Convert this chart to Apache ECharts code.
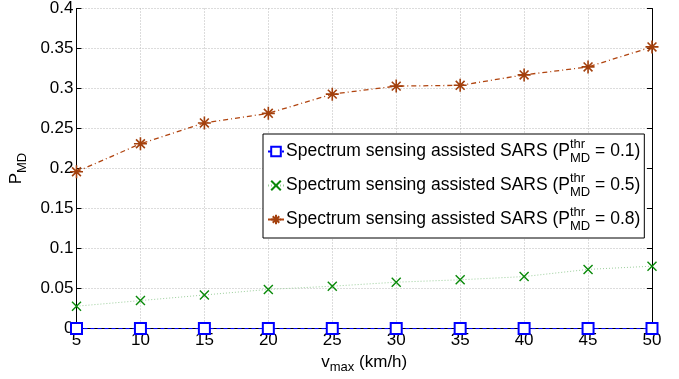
<!DOCTYPE html>
<html>
<head>
<meta charset="utf-8">
<script src="https://cdn.jsdelivr.net/npm/echarts@6/dist/echarts.min.js"></script>
<style>
  html, body { margin: 0; padding: 0; background: #fff; }
  #main { width: 679px; height: 379px; }
</style>
</head>
<body>
<div id="main"></div>
<script>
// data
const vmax = [5, 10, 15, 20, 25, 30, 35, 40, 45, 50]
const thr = ['0.1', '0.5', '0.8']
const pmd01 = [0, 0, 0, 0, 0, 0, 0, 0, 0, 0]
const pmd05 = [0.028, 0.035, 0.042, 0.049, 0.053, 0.058, 0.061, 0.065, 0.074, 0.078]
const pmd08 = [0.196, 0.231, 0.257, 0.269, 0.293, 0.303, 0.304, 0.317, 0.327, 0.352]

const font = 'Liberation Sans'
const names = thr.map(t => 'Spectrum sensing assisted SARS (thr ' + t + ')')

function pts(ys) {
    return vmax.map((x, i) => [x, ys[i]])
}

const xMark = 'path://M0,0L10,10M10,0L0,10'
const starMark = 'path://M5,0L5,10M0,5L10,5M1.6,1.6L8.4,8.4M8.4,1.6L1.6,8.4'

var chart = echarts.init(document.getElementById('main'), null, { renderer: 'canvas' })

let gridLine = { show: true, lineStyle: { color: '#b8b8b8', type: [1, 2], width: 1 } }

let option = {
    animation: false,
    backgroundColor: '#fff',
    textStyle: { fontFamily: font },
    grid: { left: 76, right: 27, top: 8, bottom: 47 },
    legend: {
        orient: 'vertical',
        left: 263,
        top: 134,
        padding: [4, 4, 5, 4],
        itemGap: 7,
        itemWidth: 16,
        itemHeight: 12,
        borderColor: '#000',
        borderWidth: 1,
        backgroundColor: '#fff',
        data: names,
        formatter: function (name) {
            let t = thr[names.indexOf(name)]
            return '{a|Spectrum sensing assisted SARS (P}{sup|thr}{sub|MD}{a| = ' + t + ')}'
        },
        textStyle: {
            fontFamily: font,
            padding: [0, 0, 0, -3],
            rich: {
                a: { fontSize: 17.5, color: '#000', fontFamily: font, lineHeight: 27 },
                sup: { fontSize: 13, color: '#000', fontFamily: font, verticalAlign: 'top', width: 0 },
                sub: { fontSize: 13, color: '#000', fontFamily: font, verticalAlign: 'bottom' }
            }
        }
    },
    xAxis: [
        {
            type: 'value',
            min: 5,
            max: 50,
            interval: 5,
            name: '{a|v}{sub|max}{a| (km/h)}',
            nameLocation: 'middle',
            nameGap: 18,
            nameTextStyle: {
                rich: {
                    a: { fontSize: 17, color: '#000', fontFamily: font, lineHeight: 24 },
                    sub: { fontSize: 13, color: '#000', fontFamily: font, verticalAlign: 'bottom' }
                }
            },
            axisLine: { lineStyle: { color: '#000', width: 1 } },
            axisTick: { inside: true, length: 5, lineStyle: { color: '#000' } },
            axisLabel: { color: '#000', fontSize: 17, fontFamily: font, margin: 3 },
            splitLine: gridLine
        },
        {
            type: 'value',
            position: 'top',
            min: 5,
            max: 50,
            interval: 5,
            axisLine: { show: true, lineStyle: { color: '#000', width: 1 } },
            axisTick: { show: true, inside: true, length: 5, lineStyle: { color: '#000' } },
            axisLabel: { show: false },
            splitLine: { show: false }
        }
    ],
    yAxis: [
        {
            type: 'value',
            min: 0,
            max: 0.4,
            interval: 0.05,
            name: '{a|P}{sub|MD}',
            nameLocation: 'middle',
            nameGap: 48,
            nameRotate: 90,
            nameTextStyle: {
                rich: {
                    a: { fontSize: 17, color: '#000', fontFamily: font, lineHeight: 24 },
                    sub: { fontSize: 13, color: '#000', fontFamily: font, verticalAlign: 'bottom' }
                }
            },
            axisLine: { show: true, lineStyle: { color: '#000', width: 1 } },
            axisTick: { show: true, inside: true, length: 5, lineStyle: { color: '#000' } },
            axisLabel: { color: '#000', fontSize: 17, fontFamily: font, margin: 3 },
            splitLine: gridLine
        },
        {
            type: 'value',
            position: 'right',
            min: 0,
            max: 0.4,
            interval: 0.05,
            axisLine: { show: true, lineStyle: { color: '#000', width: 1 } },
            axisTick: { show: true, inside: true, length: 5, lineStyle: { color: '#000' } },
            axisLabel: { show: false },
            splitLine: { show: false }
        }
    ],
    series: [
        {
            name: names[0],
            type: 'line',
            data: pts(pmd01),
            symbol: 'emptyRect',
            symbolSize: 11,
            z: 5,
            lineStyle: { color: '#0000ff', width: 1.2, type: [4, 3] },
            itemStyle: { color: '#0000ff', borderColor: '#0000ff', borderWidth: 1.3 }
        },
        {
            name: names[1],
            type: 'line',
            data: pts(pmd05),
            symbol: xMark,
            symbolSize: 9,
            lineStyle: { color: '#9ccf9c', width: 1, type: [1, 2] },
            itemStyle: { color: 'none', borderColor: '#0a8a0a', borderWidth: 1.4 }
        },
        {
            name: names[2],
            type: 'line',
            data: pts(pmd08),
            symbol: starMark,
            symbolSize: 13,
            lineStyle: { color: '#b0440f', width: 1.3, type: [5, 3, 1, 3] },
            itemStyle: { color: 'none', borderColor: '#a3400d', borderWidth: 1.6 }
        }
    ]
}

option && chart.setOption(option)
</script>
</body>
</html>
